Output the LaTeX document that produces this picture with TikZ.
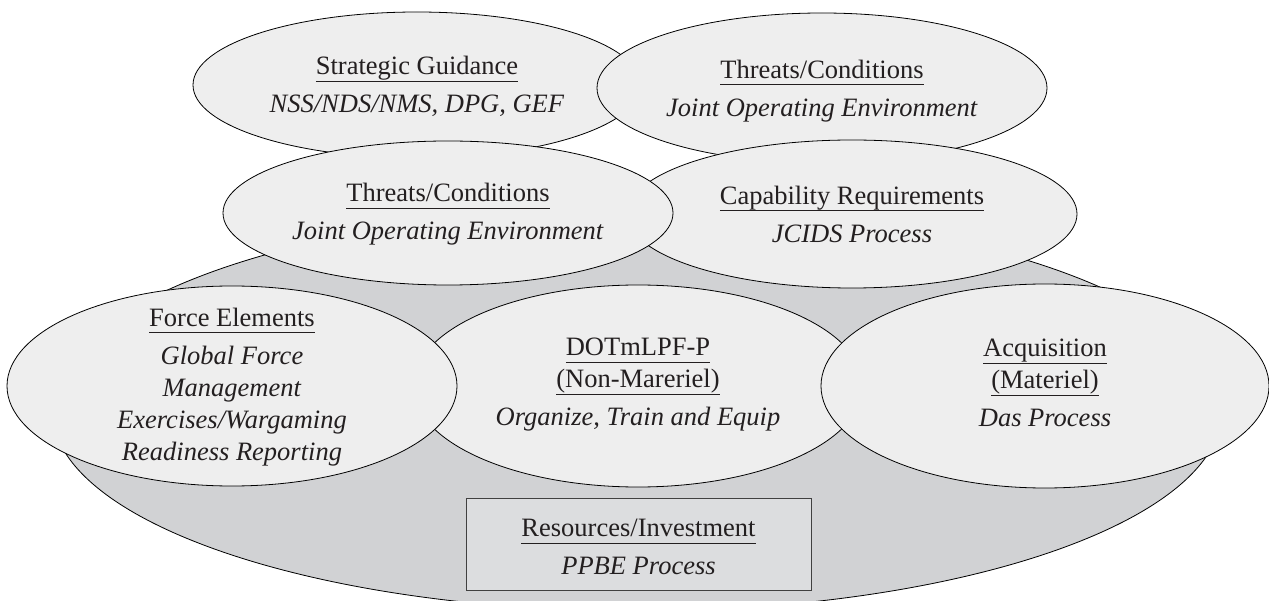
\documentclass[tikz,border=0pt]{standalone}
\usepackage{fontspec}
\setmainfont{Liberation Serif}
\usetikzlibrary{shapes.geometric}

\definecolor{inkc}{HTML}{231F20}
\definecolor{lightfill}{HTML}{EEEEEE}
\definecolor{basefill}{HTML}{D1D2D4}
\definecolor{boxfill}{HTML}{DCDDDF}
\definecolor{boxline}{HTML}{404040}

% heading with a rule at a fixed distance below the baseline
\newsavebox\hlbox
\newcommand{\headln}[1]{\sbox\hlbox{#1}\rlap{\rule[-6.9pt]{\wd\hlbox}{0.9pt}}\usebox\hlbox}

\begin{document}
\begin{tikzpicture}[x=1pt,y=-1pt,
  bubble/.style={ellipse, draw=black, line width=0.8pt, fill=lightfill, inner sep=0pt},
  bubbletext/.style={text=inkc, align=center, inner sep=0pt,
    font=\fontsize{26.5}{32}\selectfont},
  basering/.style={ellipse, draw=black, line width=0.8pt, fill=basefill, inner sep=0pt,
    minimum width=1170pt, minimum height=402pt},
  fundbox/.style={rectangle, draw=boxline, line width=1pt, fill=boxfill, inner sep=0pt,
    minimum width=345pt, minimum height=92pt}]

\clip (0,0) rectangle (1269,601);
\fill[white] (0,0) rectangle (1269,601);

% common base shared by all activities
\node[basering] (base) at (637,410) {};

% funding box
\node[fundbox] (res) at (638.5,544) {};
\node[bubbletext] (resT) at ([yshift=-3pt]res.center)
  {\headln{Resources/Investment}\\[6pt]\textit{PPBE Process}};

% top row
\node[bubble, minimum width=448pt, minimum height=146pt] (sg) at (417,85) {};
\node[bubble, minimum width=450pt, minimum height=150pt] (tc1) at (822,88) {};
% middle row
\node[bubble, minimum width=450pt, minimum height=148pt] (cr) at (852,214) {};
\node[bubble, minimum width=450pt, minimum height=144pt] (tc2) at (448,213) {};
% bottom row
\node[bubble, minimum width=450pt, minimum height=202pt] (dot) at (638,386) {};
\node[bubble, minimum width=450pt, minimum height=200pt] (fe) at (232,386) {};
\node[bubble, minimum width=448pt, minimum height=204pt] (acq) at (1045,386) {};

% labels
\node[bubbletext] (sgT) at ([yshift=-1.5pt]sg.center)
  {\headln{Strategic Guidance}\\[6pt]\textit{NSS/NDS/NMS, DPG, GEF}};
\node[bubbletext] (tc1T) at ([yshift=-3pt]tc1.center)
  {\headln{Threats/Conditions}\\[6pt]\textit{Joint Operating Environment}};
\node[bubbletext] (crT) at (cr.center)
  {\headln{Capability Requirements}\\[6pt]\textit{JCIDS Process}};
\node[bubbletext] (tc2T) at ([yshift=-1.5pt]tc2.center)
  {\headln{Threats/Conditions}\\[6pt]\textit{Joint Operating Environment}};
\node[bubbletext] (dotT) at ([yshift=1pt]dot.center)
  {\headln{DOTmLPF-P}\\\headln{(Non-Mareriel)}\\[6pt]\textit{Organize, Train and Equip}};
\node[bubbletext] (feT) at ([yshift=-1pt]fe.center)
  {\headln{Force Elements}\\[6pt]\textit{Global Force}\\\textit{Management}\\
   \textit{Exercises/Wargaming}\\\textit{Readiness Reporting}};
\node[bubbletext] (acqT) at ([yshift=3pt]acq.center)
  {\headln{Acquisition}\\\headln{(Materiel)}\\[6pt]\textit{Das Process}};

\end{tikzpicture}
\end{document}
